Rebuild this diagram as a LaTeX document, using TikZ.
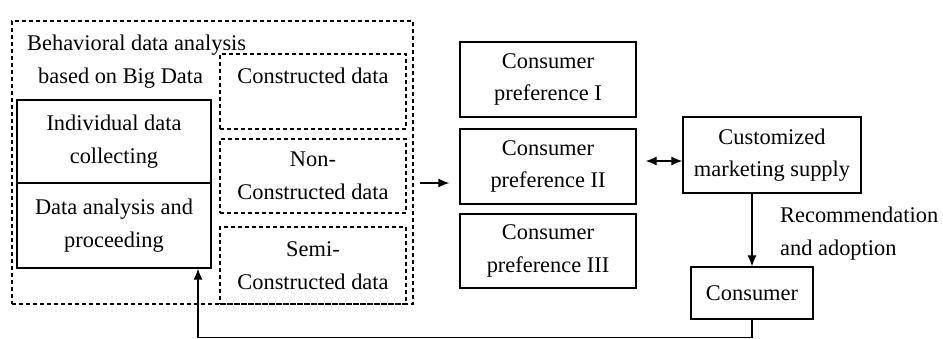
\documentclass[tikz,border=0pt]{standalone}
\usepackage{fontspec}
\setmainfont{Liberation Serif}
\usetikzlibrary{calc,arrows.meta}
\tikzset{
	box/.style={draw, line width=1.3pt, align=center, inner sep=0pt},
	dbox/.style={box, dash pattern=on 4pt off 3pt},
	tip/.tip={Latex[length=11pt,width=9pt]},
	arr/.style={line width=1.3pt, -tip}
}

\begin{document}
\begin{tikzpicture}[x=1pt, y=-1pt, font=\fontsize{22.4}{32.5}\selectfont]
		%%%%% START %%%%%
		\useasboundingbox (0, 0) rectangle (943, 338);
		
		\node[dbox, minimum width=401, minimum height=283] (outer) at (212.5, 162.5) {};
		\node[align=left, anchor=west, inner sep=0pt] (title) at (27, 61.5) {Behavioral data analysis\\\hspace*{11pt}based on Big Data};
		
		\node[box, minimum width=194, minimum height=83] (collect) at (114, 141.5) {Individual data\\collecting};
		\node[box, minimum width=194, minimum height=85] (analysis) at (114, 225.5) {Data analysis and\\proceeding};
		
		\node[dbox, minimum width=186, minimum height=75] (cdata) at (313, 91.5) {Constructed data\\\mbox{}};
		\node[dbox, minimum width=186, minimum height=74] (ndata) at (313, 176) {Non-\\Constructed data};
		\node[dbox, minimum width=186, minimum height=77] (sdata) at (313, 265.5) {Semi-\\Constructed data};
		
		\node[box, minimum width=176, minimum height=75] (pref1) at (548, 79.5) {Consumer\\preference I};
		\node[box, minimum width=176, minimum height=75] (pref2) at (548, 166.5) {Consumer\\preference II};
		\node[box, minimum width=176, minimum height=74] (pref3) at (548, 251) {Consumer\\preference III};
		
		\node[box, minimum width=178, minimum height=76] (supply) at (772, 155) {Customized\\marketing supply};
		\node[box, minimum width=122, minimum height=52] (consumer) at (752, 293) {Consumer};
		\node[align=left, anchor=west, inner sep=0pt] (adopt) at (780, 233.5) {Recommendation\\and adoption};
		
		\coordinate (fb) at ($(analysis.south)+(84, 0)$);
		
		\draw[arr] ($(outer.east)+(6, 20.5)$) -- ($(pref2.west)+(-10, 16.5)$);
		\draw[arr, tip-tip] ($(pref2.east)+(9, -5.5)$) -- ($(supply.west)+(0, 6)$);
		\draw[arr] (supply.south -| consumer.north) -- (consumer.north);
		\draw[arr] (consumer.south) -- ++(0, 18) -| (fb);
		
		%%%%% END %%%%%
\end{tikzpicture}
\end{document}
